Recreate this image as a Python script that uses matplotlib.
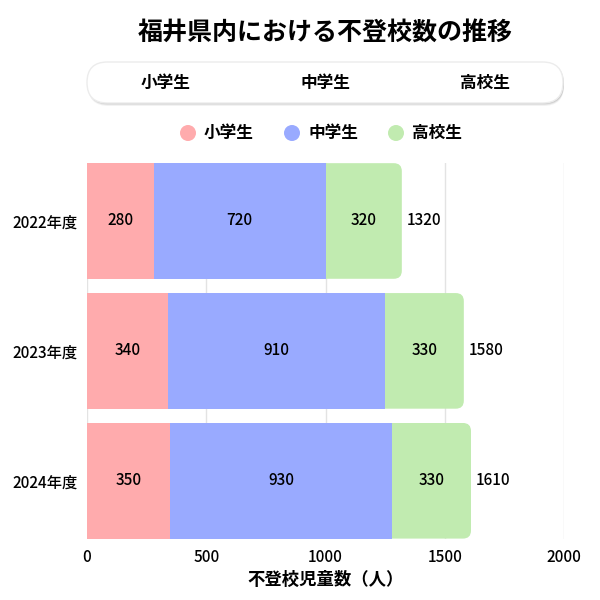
import matplotlib.pyplot as plt
from matplotlib.patches import FancyBboxPatch, Circle
import numpy as np

plt.rcParams['font.family'] = ['Noto Sans CJK JP', 'DejaVu Sans']

years = ['2022年度', '2023年度', '2024年度']
series = ['小学生', '中学生', '高校生']
elementary = [280, 340, 350]
junior = [720, 910, 930]
high = [320, 330, 330]
colors = ['#ffabad', '#99aaff', '#c1ebb0']
xticks = [0, 500, 1000, 1500, 2000]

fig = plt.figure(figsize=(6, 6), dpi=100)
ax = fig.add_axes([0.145, 0.1017, 0.795, 0.627])

y = np.arange(len(years))
h = 0.89
data = [elementary, junior, high]
left = np.zeros(len(years))
bars = []
for vals, c in zip(data, colors):
    b = ax.barh(y, vals, left=left, height=h, color=c, zorder=2)
    bars.append(b)
    for yi, v, l in zip(y, vals, left):
        ax.text(l + v / 2, yi, str(v), ha='center', va='center', fontsize=11,
                fontweight='medium', zorder=3)
    left = left + np.array(vals)

ax.set_xlim(0, 2000)
ax.set_ylim(len(years) - 1 + h / 2 + 0.003, -h / 2 - 0.003)

# 最後のセグメントだけ右端を角丸にする
r = 8 * 2000 / 477
asp = (8 / 130) / r
for rect, tot, yi in zip(bars[-1], left, y):
    clip = FancyBboxPatch((-200, yi - h / 2), tot + 200, h,
                          boxstyle=f"round,pad=0,rounding_size={r}",
                          mutation_aspect=asp)
    clip.set_transform(ax.transData)
    rect.set_clip_path(clip)
    ax.text(tot + 22, yi, str(int(tot)), ha='left', va='center', fontsize=11,
            fontweight='medium', zorder=3)

ax.set_yticks(y)
ax.set_yticklabels(years, fontsize=11, fontweight='medium')
ax.set_xticks(xticks)
ax.set_xticklabels([str(t) for t in xticks], fontsize=11, fontweight='medium')
ax.tick_params(length=0, pad=7)
ax.grid(axis='x', color='#e3e3e3', linewidth=1, zorder=0)
ax.set_axisbelow(True)
for s in ax.spines.values():
    s.set_visible(False)
ax.set_xlabel('不登校児童数（人）', fontsize=12.5, fontweight='bold', labelpad=4)

fig.text(325 / 600, 1 - 33 / 600, '福井県内における不登校数の推移', ha='center', va='center',
         fontsize=18, fontweight='bold')

# 上部のボタン風の枠（柔らかい影付き）
bx, by, bw, bh = 87 / 600, 1 - 103 / 600, 476 / 600, 41 / 600
for i, a in enumerate([0.05, 0.07, 0.1]):
    off = (3 - i) / 600
    fig.patches.append(FancyBboxPatch((bx + 1 / 600, by - off), bw, bh,
                                      boxstyle="round,pad=0,rounding_size=0.034",
                                      transform=fig.transFigure, facecolor='black',
                                      alpha=a, edgecolor='none', zorder=1))
btn = FancyBboxPatch((bx, by), bw, bh,
                     boxstyle="round,pad=0,rounding_size=0.034",
                     transform=fig.transFigure, facecolor='white',
                     edgecolor='#ececec', linewidth=1, zorder=2)
fig.patches.append(btn)
for name, px in zip(series, [166, 325, 485]):
    fig.text(px / 600, 1 - 83 / 600, name, ha='center', va='center',
             fontsize=12, fontweight='bold', zorder=3)

# 凡例
for name, c, px in zip(series, colors, [188, 292, 396]):
    fig.patches.append(Circle((px / 600, 1 - 133 / 600), 8 / 600, transform=fig.transFigure,
                              facecolor=c, edgecolor='none'))
    fig.text((px + 16) / 600, 1 - 133 / 600, name, ha='left', va='center',
             fontsize=12, fontweight='bold')

fig.savefig('out.png', dpi=100)
